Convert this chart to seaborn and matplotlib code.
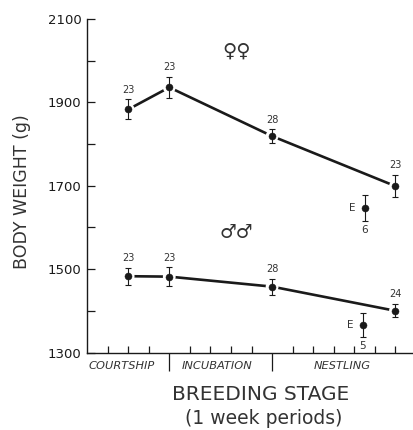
import matplotlib
matplotlib.use("Agg")
import matplotlib.pyplot as plt
import matplotlib.transforms as mtransforms
import pandas as pd
import seaborn as sns

# Sampling positions along the breeding season (half-week ticks)
week_pos = [2, 4, 9, 15]

female_mean = [1883, 1936, 1819, 1699]
female_se = [24, 26, 16, 26]
female_n = [23, 23, 28, 23]

male_mean = [1483, 1482, 1458, 1400]
male_se = [20, 22, 19, 16]
male_n = [23, 23, 28, 24]

# Experimental ("E") birds during the nestling stage
female_e_pos = [13.5]
female_e_mean = [1647]
female_e_se = [31]
female_e_n = [6]

male_e_pos = [13.4]
male_e_mean = [1366]
male_e_se = [29]
male_e_n = [5]

stages = ["COURTSHIP", "INCUBATION", "NESTLING"]
stage_centres = [1.7, 6.3, 12.4]
stage_bounds = [4, 9]
minor_x = list(range(1, 16))

y_major = [1300, 1500, 1700, 1900, 2100]
y_minor = [1400, 1600, 1800, 2000]

sns.set_theme(style="ticks")
plt.rcParams["font.family"] = ["DejaVu Sans"]
ink = "#1a1a1a"

W, H = 414, 430
fig = plt.figure(figsize=(W / 100, H / 100), dpi=100)
ax = fig.add_axes([87 / W, 1 - 352.5 / H, 1 - 87 / W, 333.5 / H])


def draw_series(pos, mean, se, n, e_pos, e_mean, e_se, e_n):
    df = pd.DataFrame({"week": pos, "weight": mean})
    sns.lineplot(data=df, x="week", y="weight", ax=ax, color=ink,
                 lw=1.9, zorder=2, legend=False)
    # white halo leaves a small gap between the line and each point
    sns.scatterplot(data=df, x="week", y="weight", ax=ax, s=85,
                    color="white", edgecolor="none", zorder=3, legend=False)
    xs = pos + e_pos
    ys = mean + e_mean
    es = se + e_se
    ax.errorbar(xs, ys, yerr=es, fmt="none", ecolor=ink, elinewidth=0.8,
                capsize=2.2, capthick=0.8, zorder=4)
    pts = pd.DataFrame({"week": xs, "weight": ys})
    sns.scatterplot(data=pts, x="week", y="weight", ax=ax, s=26,
                    color=ink, edgecolor=ink, linewidth=0.3, zorder=5,
                    legend=False)
    for x, y, e, k in zip(pos, mean, se, n):
        ax.annotate(str(k), (x, y + e), xytext=(0, 3.5),
                    textcoords="offset points", ha="center", va="bottom",
                    fontsize=7, color="#333333")
    for x, y, e, k in zip(e_pos, e_mean, e_se, e_n):
        ax.annotate("E", (x, y), xytext=(-6.5, 0),
                    textcoords="offset points", ha="right", va="center",
                    fontsize=7.5, color="#333333")
        ax.annotate(str(k), (x, y - e), xytext=(0, -3),
                    textcoords="offset points", ha="center", va="top",
                    fontsize=7.5, color="#333333")


draw_series(week_pos, female_mean, female_se, female_n,
            female_e_pos, female_e_mean, female_e_se, female_e_n)
draw_series(week_pos, male_mean, male_se, male_n,
            male_e_pos, male_e_mean, male_e_se, male_e_n)

ax.text(7.26, 2023, "\u2640\u2640", ha="center", va="center",
        fontsize=14, color="#333333")
ax.text(7.28, 1587, "\u2642\u2642", ha="center", va="center",
        fontsize=13.5, color="#333333")

ax.set_xlim(0, 15.9)
ax.set_ylim(1300, 2100)
ax.set_yticks(y_major)
ax.set_yticks(y_minor, minor=True)
ax.set_xticks(stage_bounds)
ax.set_xticks(minor_x, minor=True)
ax.set_xticklabels([])
ax.set_yticklabels([str(v) for v in y_major])
ax.set_xlabel("")
ax.set_ylabel("")

ax.tick_params(axis="y", which="both", direction="in", length=6,
               width=0.9, color=ink, labelsize=9.5, labelcolor=ink, pad=4)
ax.tick_params(axis="x", which="minor", direction="in", length=5,
               width=0.9, color=ink)
ax.tick_params(axis="x", which="major", direction="out", length=13,
               width=0.9, color=ink)

for side in ("top", "right"):
    ax.spines[side].set_visible(False)
for side in ("left", "bottom"):
    ax.spines[side].set_linewidth(1.0)
    ax.spines[side].set_color(ink)

trans = mtransforms.blended_transform_factory(ax.transData, ax.transAxes)
for label, cx in zip(stages, stage_centres):
    ax.text(cx, -0.04, label, transform=trans, ha="center", va="center",
            fontsize=8.2, style="italic", color="#333333")

fig.text(261 / W, 1 - 395 / H, "BREEDING STAGE", ha="center", va="center",
         fontsize=14.5, color="#333333")
fig.text(264 / W, 1 - 419 / H, "(1 week periods)", ha="center",
         va="center", fontsize=13.5, color="#333333")
fig.text(22 / W, 1 - 192 / H, "BODY WEIGHT (g)", ha="center", va="center",
         rotation=90, fontsize=12.5, color="#333333")

fig.savefig("out.png", dpi=100)
